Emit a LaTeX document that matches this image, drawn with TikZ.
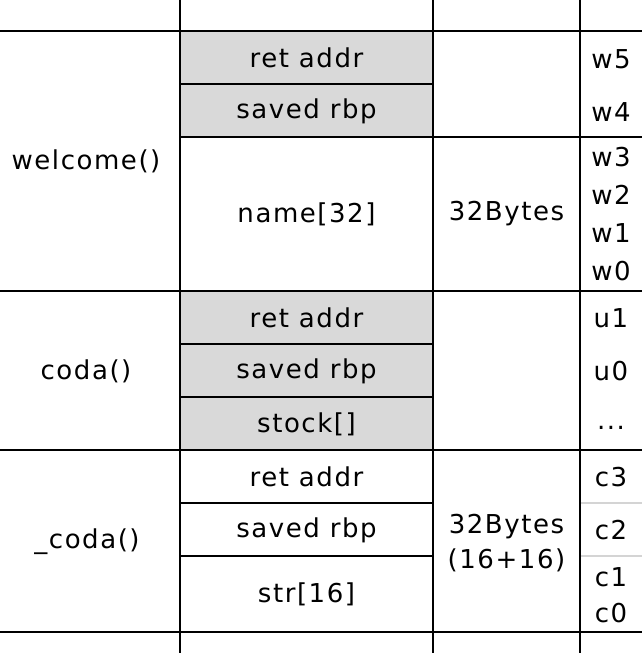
\documentclass[tikz,border=0pt]{standalone}
\usepackage{fontspec}
\setmainfont{DejaVu Sans}[LetterSpace=6]
\begin{document}
\begin{tikzpicture}[x=1pt,y=-1pt,
  lbl/.style={font=\fontsize{26}{36}\selectfont, inner sep=0pt, align=center, text=black},
  gridline/.style={draw=black, line width=1.3pt},
  faintline/.style={draw=black!17, line width=1.3pt},
  shaded/.style={fill=black!15}]
\useasboundingbox (0,0) rectangle (642,653);
% shaded cells
\fill[shaded] (180,31) rectangle (433,137);
\fill[shaded] (180,291) rectangle (433,450);
% faint separators in last column
\draw[faintline] (580,503) -- (642,503);
\draw[faintline] (580,556) -- (642,556);
% vertical lines
\draw[gridline] (180,0) -- (180,653);
\draw[gridline] (433,0) -- (433,653);
\draw[gridline] (580,0) -- (580,653);
% full-width horizontal lines
\draw[gridline] (0,31) -- (642,31);
\draw[gridline] (0,291) -- (642,291);
\draw[gridline] (0,450) -- (642,450);
\draw[gridline] (0,632) -- (642,632);
% partial horizontal lines
\draw[gridline] (180,137) -- (642,137);
\draw[gridline] (180,84) -- (433,84);
\draw[gridline] (180,344) -- (433,344);
\draw[gridline] (180,397) -- (433,397);
\draw[gridline] (180,503) -- (433,503);
\draw[gridline] (180,556) -- (433,556);
% function names
\node[lbl] (welcome) at (86,161) {welcome()};
\node[lbl] (coda) at (86,371) {coda()};
\node[lbl] (ucoda) at (87,542) {\_coda()};
% frame contents
\node[lbl] (ret1) at (306.5,58) {ret addr};
\node[lbl] (rbp1) at (306.5,111) {saved rbp};
\node[lbl] (name) at (306.5,214) {name[32]};
\node[lbl] (ret2) at (306.5,318) {ret addr};
\node[lbl] (rbp2) at (306.5,371) {saved rbp};
\node[lbl] (stock) at (306.5,424) {stock[]};
\node[lbl] (ret3) at (306.5,477) {ret addr};
\node[lbl] (rbp3) at (306.5,530) {saved rbp};
\node[lbl] (str) at (306.5,594) {str[16]};
% sizes
\node[lbl, font=\fontsize{26}{35}\selectfont] (size1) at (506.5,214) {32Bytes};
\node[lbl, font=\fontsize{26}{35}\selectfont] (size2) at (506.5,543) {32Bytes\\(16+16)};
% slot labels
\node[lbl] (w5) at (611,59) {w5};
\node[lbl] (w4) at (611,112) {w4};
\node[lbl, font=\fontsize{26}{38}\selectfont] (w30) at (611,214) {w3\\w2\\w1\\w0};
\node[lbl] (u1) at (611,318) {u1};
\node[lbl] (u0) at (611,371) {u0};
\node[lbl] (dots) at (611,428) {...};
\node[lbl] (c3) at (611,477) {c3};
\node[lbl] (c2) at (611,530) {c2};
\node[lbl, font=\fontsize{26}{36}\selectfont] (c10) at (611,595) {c1\\c0};
\end{tikzpicture}
\end{document}
